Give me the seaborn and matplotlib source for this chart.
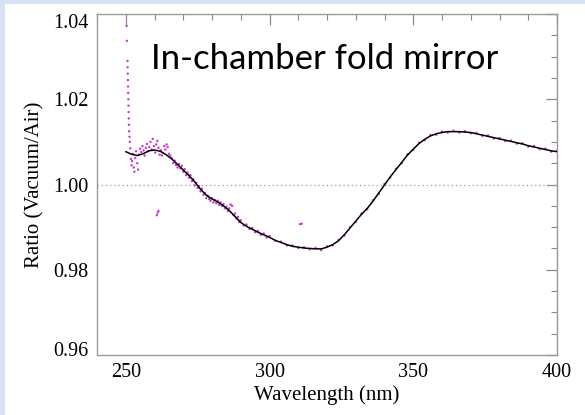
import matplotlib
matplotlib.use("Agg")
import matplotlib.pyplot as plt
from matplotlib.patches import Rectangle
from matplotlib.ticker import MultipleLocator
from matplotlib.transforms import ScaledTranslation
import seaborn as sns
import pandas as pd

# ---- fitted smooth curve (black) ----
fit_wl = [250, 252, 254, 256, 258, 260, 262, 264, 266, 268, 270, 272, 274, 276, 278,
          280, 282, 284, 286, 288, 290, 292, 294, 296, 298, 300, 302, 304, 306, 308,
          310, 312, 314, 316, 318, 320, 322, 324, 326, 328, 330, 332, 334, 336, 338,
          340, 342, 344, 346, 348, 350, 352, 354, 356, 358, 360, 362, 364, 366, 368,
          370, 372, 374, 376, 378, 380, 382, 384, 386, 388, 390, 392, 394, 396, 398, 400]
fit_ratio = [1.0077, 1.0071, 1.0068, 1.0072, 1.0079, 1.0081, 1.0078, 1.0070, 1.0060, 1.0047,
             1.0034, 1.0021, 1.0006, 0.9989, 0.9975, 0.9966, 0.9959, 0.9950, 0.9939, 0.9925,
             0.9911, 0.9902, 0.9895, 0.9888, 0.9882, 0.9876, 0.9869, 0.9864, 0.9859, 0.9855,
             0.9853, 0.9851, 0.9850, 0.9849, 0.9849, 0.9853, 0.9859, 0.9868, 0.9882, 0.9898,
             0.9914, 0.9930, 0.9944, 0.9961, 0.9980, 0.9999, 1.0018, 1.0035, 1.0052, 1.0069,
             1.0083, 1.0096, 1.0106, 1.0114, 1.0119, 1.0122, 1.0124, 1.0124, 1.0124, 1.0123,
             1.0122, 1.0119, 1.0116, 1.0113, 1.0110, 1.0107, 1.0104, 1.0101, 1.0098, 1.0095,
             1.0091, 1.0088, 1.0085, 1.0082, 1.0079, 1.0077]

# ---- measured ratio (magenta dots) ----
meas_wl = [250.3, 250.4, 250.6, 250.65, 250.7, 250.75, 250.8, 250.85, 250.9,
           250.95, 251.0, 251.05, 251.1, 251.2, 251.3,
           251.4, 251.6, 251.8, 252.0, 252.2, 252.5, 252.8, 253.0, 253.3, 253.6, 254.0, 254.3,
           254.6, 255.0, 255.4, 255.8, 256.2, 256.6, 257.0, 257.4, 257.8, 258.2, 258.6, 259.0,
           259.4, 259.8, 260.2, 260.6, 261.0, 261.4, 261.8, 262.2, 262.6, 263.0, 263.4, 263.8,
           264.2, 264.6, 265.0, 265.5, 266.0, 266.5, 267.0, 267.5, 268.0,
           268.5, 269.0, 269.5, 270.0, 270.5, 271.0, 271.5, 272.0, 272.5, 273.0, 273.5, 274.0,
           274.5, 275.0, 275.5, 276.0, 276.5, 277.0, 277.5, 278.0, 278.5, 279.0, 279.5, 280.0,
           280.5, 281.0, 281.5, 282.0, 282.5, 283.0, 283.5, 284.0, 284.5, 285.0, 285.5, 286.0,
           286.5, 287.0, 287.5, 288.0, 288.5, 289.0, 289.5, 290.0,
           291, 292, 293, 294, 295, 296, 297, 298, 299, 300, 302, 304, 306, 308, 310, 312,
           314, 316, 318, 320, 322, 324, 326, 328, 330, 332, 334, 336, 338, 340, 342, 344,
           346, 348, 350, 352, 354, 356, 358, 360, 362, 364, 366, 368, 370, 372, 374, 376,
           378, 380, 382, 384, 386, 388, 390, 392, 394, 396, 398, 400,
           260.8, 261.1, 261.4, 310.6, 311.2]
meas_ratio = [1.0372, 1.0337, 1.0290, 1.0275, 1.0260, 1.0245, 1.0230, 1.0215, 1.0200,
              1.0185, 1.0170, 1.0155, 1.0140, 1.0125, 1.0112,
              1.0100, 1.0085, 1.0060, 1.0045, 1.0055, 1.0072, 1.0040, 1.0030, 1.0062, 1.0078,
              1.0050, 1.0035, 1.0070, 1.0084, 1.0076, 1.0090, 1.0080, 1.0068, 1.0086, 1.0095,
              1.0078, 1.0088, 1.0100, 1.0082, 1.0107, 1.0090, 1.0075, 1.0094, 1.0102, 1.0086,
              1.0070, 1.0080, 1.0068, 1.0074, 1.0090, 1.0082, 1.0094, 1.0088, 1.0072, 1.0068,
              1.0062, 1.0050, 1.0056, 1.0046, 1.0040,
              1.0048, 1.0038, 1.0044, 1.0030, 1.0036, 1.0022, 1.0028, 1.0016, 1.0022, 1.0008,
              1.0012, 0.9998, 1.0004, 0.9992, 0.9996, 0.9984, 0.9990, 0.9976, 0.9980, 0.9968,
              0.9974, 0.9966, 0.9962, 0.9968, 0.9958, 0.9964, 0.9956, 0.9962, 0.9952, 0.9958,
              0.9950, 0.9954, 0.9944, 0.9948, 0.9938, 0.9944, 0.9953, 0.9950, 0.9928, 0.9932,
              0.9920, 0.9924, 0.9912, 0.9916,
              0.9904, 0.9906, 0.9896, 0.9898, 0.9888, 0.9891, 0.9882, 0.9885, 0.9876, 0.9879,
              0.9868, 0.9866, 0.9857, 0.9857, 0.9851, 0.9853, 0.9848, 0.9851, 0.9846, 0.9855,
              0.9857, 0.9870, 0.9880, 0.9900, 0.9912, 0.9932, 0.9942, 0.9963, 0.9978, 1.0001,
              1.0016, 1.0037, 1.0050, 1.0071, 1.0081, 1.0098, 1.0104, 1.0116, 1.0117, 1.0124,
              1.0122, 1.0126, 1.0122, 1.0125, 1.0120, 1.0121, 1.0114, 1.0115, 1.0108, 1.0109,
              1.0102, 1.0103, 1.0096, 1.0097, 1.0089, 1.0090, 1.0083, 1.0084, 1.0077, 1.0079,
              0.9928, 0.9934, 0.9938, 0.9907, 0.9908]

x_ticks = [250, 300, 350, 400]
y_ticks = [0.96, 0.98, 1.00, 1.02, 1.04]
y_tick_labels = ["0.96", "0.98", "1.00", "1.02", "1.04"]
x_label = "Wavelength (nm)"
y_label = "Ratio (Vacuum/Air)"
title_text = "In-chamber fold mirror"

sns.set_theme(style="white")
plt.rcParams["font.family"] = ["Liberation Serif", "DejaVu Serif"]

fig = plt.figure(figsize=(5.85, 4.15), dpi=100)
fig.patch.set_facecolor("white")
fig.patches.append(Rectangle((0, 0), 5 / 585, 1, transform=fig.transFigure,
                             facecolor="#D6E1F2", edgecolor="none", zorder=0))
fig.patches.append(Rectangle((0, 1 - 4 / 415), 1, 4 / 415, transform=fig.transFigure,
                             facecolor="#D6E1F2", edgecolor="none", zorder=0))

ax = fig.add_axes([97 / 585, 1 - 355 / 415, 460 / 585, 341 / 415])
ax.set_facecolor("white")

df_meas = pd.DataFrame({"wl": meas_wl, "ratio": meas_ratio})
df_fit = pd.DataFrame({"wl": fit_wl, "ratio": fit_ratio})

ax.axhline(1.0, color="#AAAAAA", linestyle=(0, (1, 2)), linewidth=1.0, zorder=1)
sns.scatterplot(data=df_meas, x="wl", y="ratio", ax=ax, color="#C63CCC", s=3,
                marker="o", edgecolor="none", zorder=2)
sns.lineplot(data=df_fit, x="wl", y="ratio", ax=ax, color="black", linewidth=1.1,
             zorder=3)

ax.set_xlim(240, 400)
ax.set_ylim(0.96, 1.04)
ax.set_xticks(x_ticks)
ax.set_yticks(y_ticks)
ax.set_yticklabels(y_tick_labels)
ax.xaxis.set_minor_locator(MultipleLocator(10))
ax.yaxis.set_minor_locator(MultipleLocator(0.005))
ax.tick_params(axis="both", which="both", direction="in", top=True, right=True,
               colors="#888888", labelcolor="black", labelsize=14.5)
ax.tick_params(axis="both", which="major", length=8, width=0.9, pad=6)
ax.tick_params(axis="both", which="minor", length=4, width=0.8)
for sp in ax.spines.values():
    sp.set_color("#999999")
    sp.set_linewidth(1.0)

# edge labels nudged inward, like the original
ylabels = ax.get_yticklabels()
ylabels[0].set_transform(ylabels[0].get_transform() +
                         ScaledTranslation(0, 6 / 100, fig.dpi_scale_trans))
ylabels[-1].set_transform(ylabels[-1].get_transform() +
                          ScaledTranslation(0, -7 / 100, fig.dpi_scale_trans))

ax.set_xlabel(x_label, fontsize=15, labelpad=2, color="black")
ax.set_ylabel(y_label, fontsize=15, labelpad=6, color="black")

ax.text(0.494, 0.868, title_text, transform=ax.transAxes, ha="center", va="center",
        fontsize=25, family=["Lato", "DejaVu Sans"], color="black")

fig.savefig("out.png", dpi=100)
